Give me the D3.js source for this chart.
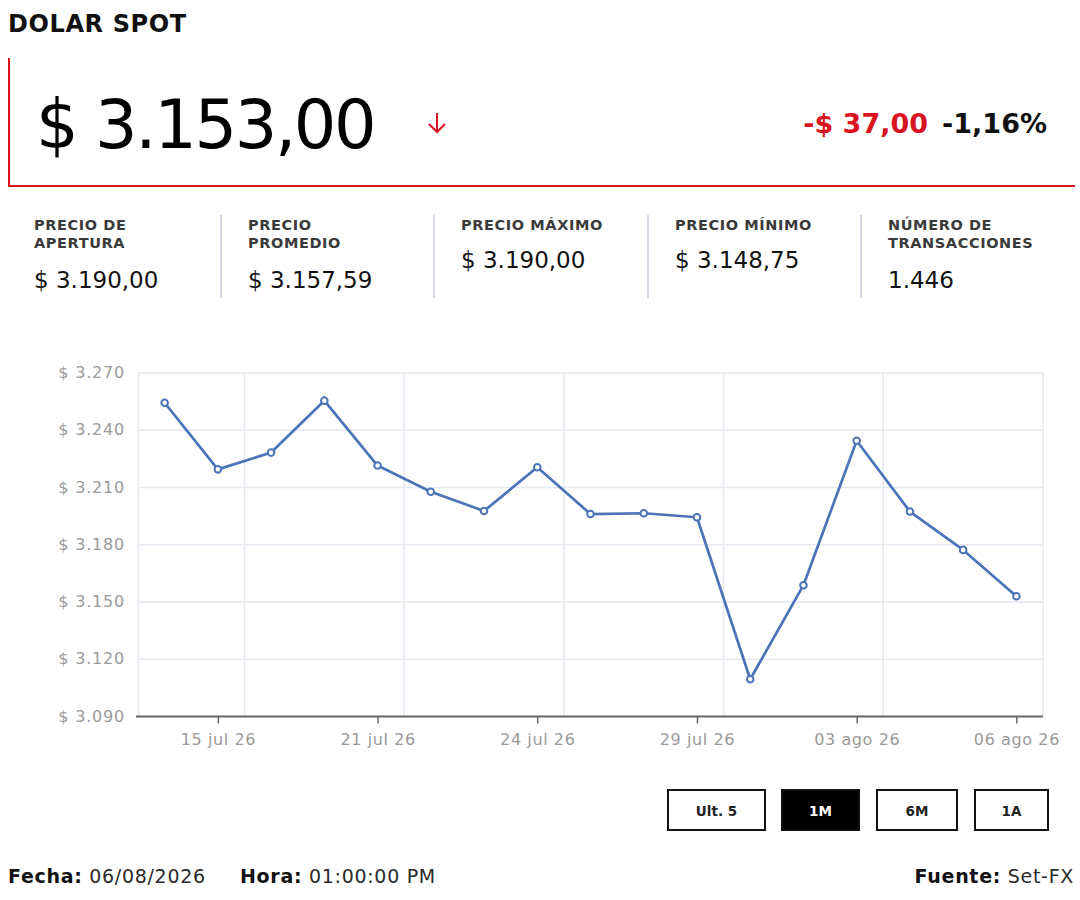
<!DOCTYPE html>
<html>
<head>
<meta charset="utf-8">
<script src="https://cdn.jsdelivr.net/npm/d3@7"></script>
<style>
  body { margin: 0; background: #fff; }
  svg text { font-family: "DejaVu Sans", "Noto Sans", sans-serif; }
</style>
</head>
<body>
<svg id="page" width="1080" height="900"></svg>
<script>
// chart data
const dates = ['2026-07-14', '2026-07-15', '2026-07-16', '2026-07-17', '2026-07-21', '2026-07-22',
  '2026-07-23', '2026-07-24', '2026-07-27', '2026-07-28', '2026-07-29', '2026-07-30',
  '2026-07-31', '2026-08-03', '2026-08-04', '2026-08-05', '2026-08-06']
const prices = [3254.4, 3219.5, 3228.3, 3255.5, 3221.5, 3207.8, 3197.7, 3220.6, 3196.1,
  3196.5, 3194.4, 3109.5, 3158.8, 3234.5, 3197.4, 3177.3, 3153.0]
const tickDates = ['2026-07-15', '2026-07-21', '2026-07-24', '2026-07-29', '2026-08-03', '2026-08-06']
const yTicks = [3090, 3120, 3150, 3180, 3210, 3240, 3270]

const statLabels = [['PRECIO DE', 'APERTURA'], ['PRECIO', 'PROMEDIO'], ['PRECIO MÁXIMO'], ['PRECIO MÍNIMO'], ['NÚMERO DE', 'TRANSACCIONES']]
const statValues = ['$ 3.190,00', '$ 3.157,59', '$ 3.190,00', '$ 3.148,75', '1.446']
const ranges = ['Ult. 5', '1M', '6M', '1A']
const activeRange = '1M'

const RED = '#d9141f'
const svg = d3.select('#page')

const loc = d3.formatLocale({ decimal: ',', thousands: '.', grouping: [3], currency: ['$ ', ''] })
const fmtY = loc.format('$,.0f')
const months = ['ene', 'feb', 'mar', 'abr', 'may', 'jun', 'jul', 'ago', 'sep', 'oct', 'nov', 'dic']
const parse = d3.timeParse('%Y-%m-%d')
const fmtDate = (s) => {
  let d = parse(s)
  return d3.timeFormat('%d')(d) + ' ' + months[d.getMonth()] + ' ' + d3.timeFormat('%y')(d)
}

// header
svg.append('text').attr('x', 8).attr('y', 32)
  .attr('font-size', 24).attr('font-weight', 800).attr('fill', '#111').attr('letter-spacing', 0.6)
  .text('DOLAR SPOT')

svg.append('path').attr('d', 'M9,58 V186 H1075')
  .attr('fill', 'none').attr('stroke', RED).attr('stroke-width', 2)

svg.append('text').attr('x', 36).attr('y', 148)
  .attr('font-size', 67).attr('fill', '#000').attr('letter-spacing', -2.4)
  .text('$ 3.153,00')

// down arrow
svg.append('path').attr('d', 'M437,113 V132 M429,124 L437,132 L445,124')
  .attr('fill', 'none').attr('stroke', RED).attr('stroke-width', 2)

svg.append('text').attr('x', 928).attr('y', 133).attr('text-anchor', 'end')
  .attr('font-size', 27).attr('font-weight', 600).attr('fill', RED)
  .text('-$ 37,00')
svg.append('text').attr('x', 1047).attr('y', 133).attr('text-anchor', 'end')
  .attr('font-size', 27).attr('font-weight', 600).attr('fill', '#111')
  .text('-1,16%')

// stats row
const colX = [34, 248, 461, 675, 888]
statLabels.forEach(function (lines, i) {
  let t = svg.append('text').attr('font-size', 14.5).attr('font-weight', 600).attr('fill', '#3a3a3a')
    .attr('letter-spacing', 0.6)
  lines.forEach((l, j) => t.append('tspan').attr('x', colX[i]).attr('y', 230 + j * 18).text(l))
  svg.append('text').attr('x', colX[i]).attr('y', lines.length > 1 ? 288 : 268)
    .attr('font-size', 23).attr('font-weight', 500).attr('fill', '#111')
    .text(statValues[i])
  if (i > 0) {
    svg.append('line').attr('x1', colX[i] - 27).attr('x2', colX[i] - 27)
      .attr('y1', 215).attr('y2', 298).attr('stroke', '#c9c9dc').attr('stroke-width', 1.5)
  }
})

// chart
const x = d3.scalePoint().domain(dates).range([138, 1043]).padding(0.5)
const y = d3.scaleLinear().domain([3090, 3270]).range([716.5, 373])
const step = x.step()

const grid = svg.append('g')
grid.selectAll('.hgrid').data(yTicks).enter().append('line')
  .attr('x1', 138).attr('x2', 1043)
  .attr('y1', (d) => y(d)).attr('y2', (d) => y(d))
  .attr('stroke', '#e6e9f1').attr('stroke-width', 1.5)
grid.selectAll('.vgrid').data(tickDates).enter().append('line')
  .attr('x1', (d) => x(d) + step / 2).attr('x2', (d) => x(d) + step / 2)
  .attr('y1', 373).attr('y2', 716.5)
  .attr('stroke', '#e6e9f1').attr('stroke-width', 1.5)
grid.append('line').attr('x1', 138.5).attr('x2', 138.5).attr('y1', 373).attr('y2', 716.5)
  .attr('stroke', '#e6e9f1').attr('stroke-width', 1.5)

// y axis labels
svg.selectAll('.ylab').data(yTicks).enter().append('text')
  .attr('x', 125).attr('y', (d) => y(d) + 5).attr('text-anchor', 'end')
  .attr('font-size', 16).attr('fill', '#9a9a9a').attr('letter-spacing', 0.8)
  .text((d) => fmtY(d))

// x axis
const xAxis = svg.append('g').attr('transform', 'translate(0,716.5)')
  .call(d3.axisBottom(x).tickValues(tickDates).tickFormat(fmtDate).tickSize(7).tickPadding(10))
xAxis.select('.domain').attr('d', 'M136,0H1043').attr('stroke', '#666').attr('stroke-width', 2)
xAxis.selectAll('.tick line').attr('stroke', '#666').attr('stroke-width', 1.5)
xAxis.selectAll('.tick text').attr('font-size', 16).attr('fill', '#9a9a9a').attr('letter-spacing', 0.6)
  .attr('font-family', '"DejaVu Sans", sans-serif')

// price line
const line = d3.line().x((d, i) => x(dates[i])).y((d) => y(d))
svg.append('path').datum(prices).attr('d', line)
  .attr('fill', 'none').attr('stroke', '#4b73b7').attr('stroke-width', 2.7)
  .attr('stroke-linejoin', 'round')
svg.selectAll('.pt').data(prices).enter().append('circle')
  .attr('cx', (d, i) => x(dates[i])).attr('cy', (d) => y(d)).attr('r', 3.3)
  .attr('fill', '#fff').attr('stroke', '#4b73b7').attr('stroke-width', 2)

// range buttons
const btnX = [668, 782, 877, 975]
const btnW = [97, 77, 80, 73]
ranges.forEach(function (r, i) {
  let on = r === activeRange
  svg.append('rect').attr('x', btnX[i]).attr('y', 790).attr('width', btnW[i]).attr('height', 40)
    .attr('fill', on ? '#000' : '#fff').attr('stroke', '#111').attr('stroke-width', 2)
  svg.append('text').attr('x', btnX[i] + btnW[i] / 2).attr('y', 816).attr('text-anchor', 'middle')
    .attr('font-size', 13.5).attr('font-weight', 700).attr('fill', on ? '#fff' : '#222')
    .text(r)
})

// footer
const footer = [[8, 'start', 'Fecha:', ' 06/08/2026'], [240, 'start', 'Hora:', ' 01:00:00 PM'], [1074, 'end', 'Fuente:', ' Set-FX']]
footer.forEach(function (f) {
  let t = svg.append('text').attr('x', f[0]).attr('y', 883).attr('text-anchor', f[1])
    .attr('font-size', 19).attr('fill', '#2a2a2a').attr('letter-spacing', 0.7)
  t.append('tspan').attr('font-weight', 800).attr('fill', '#111').text(f[2])
  t.append('tspan').text(f[3])
})
</script>
</body>
</html>
